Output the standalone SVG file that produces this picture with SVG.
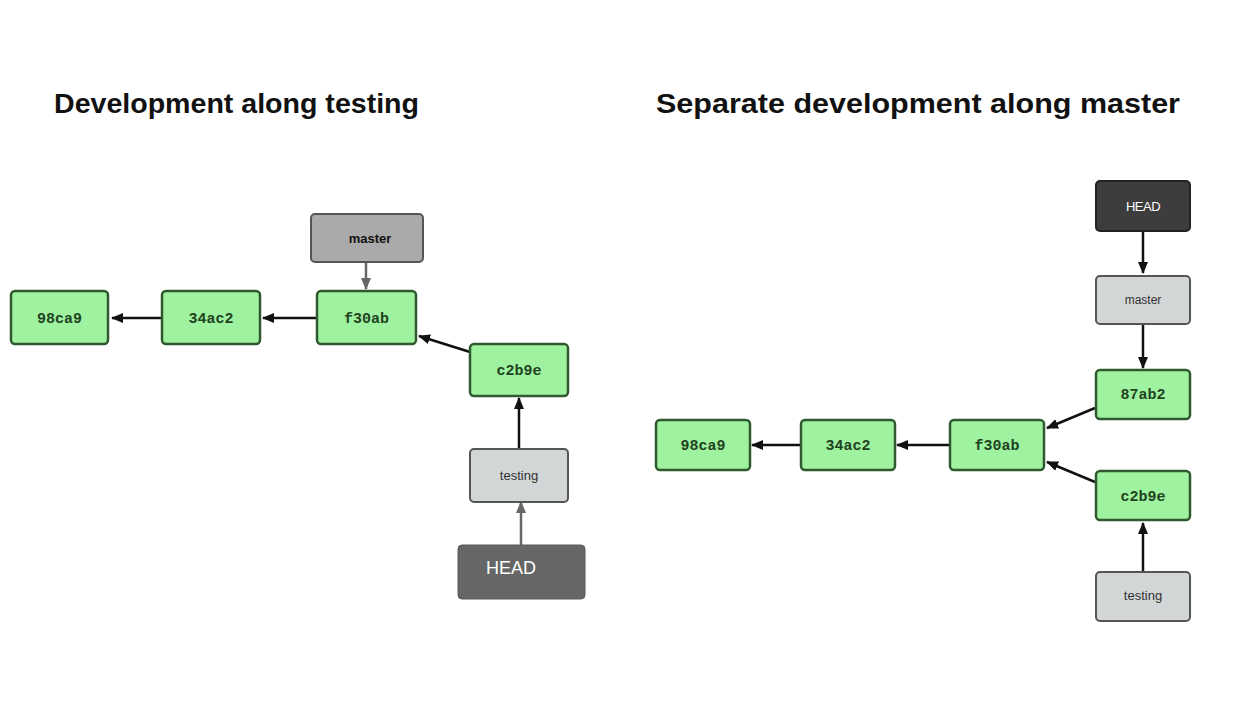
<svg xmlns="http://www.w3.org/2000/svg" width="1256" height="709" viewBox="0 0 1256 709">
<defs>
<style>
.title{font-family:"Liberation Sans",Arial,sans-serif;font-weight:bold;font-size:28px;fill:#111}
.commit rect{fill:#9ff29f;stroke:#2f5a2f;stroke-width:2.5}
.commit text{font-family:"Liberation Mono","Courier New",monospace;font-weight:bold;font-size:15px;fill:#1f431f;text-anchor:middle}
.lbl{font-family:"Liberation Sans",Arial,sans-serif;text-anchor:middle}
.conn line{stroke:#111;stroke-width:2.5}
.conn line.g{stroke:#666}
</style>
<marker id="ah" viewBox="0 0 12 10" refX="11" refY="5" markerWidth="12" markerHeight="10" markerUnits="userSpaceOnUse" orient="auto">
<path d="M0,0 L12,5 L0,10 Z" fill="#111"/>
</marker>
<marker id="ahg" viewBox="0 0 12 10" refX="11" refY="5" markerWidth="12" markerHeight="10" markerUnits="userSpaceOnUse" orient="auto">
<path d="M0,0 L12,5 L0,10 Z" fill="#666"/>
</marker>
</defs>
<rect width="1256" height="709" fill="#ffffff"/>
<text class="title" x="54" y="113" textLength="365" lengthAdjust="spacingAndGlyphs">Development along testing</text>
<text class="title" x="656" y="113" textLength="524" lengthAdjust="spacingAndGlyphs">Separate development along master</text>

<g id="connectors" class="conn">
<line x1="317" y1="318" x2="263" y2="318" marker-end="url(#ah)"/>
<line x1="162" y1="318" x2="112" y2="318" marker-end="url(#ah)"/>
<line class="g" x1="366" y1="262" x2="366" y2="289" marker-end="url(#ahg)"/>
<line x1="470" y1="352" x2="419" y2="336" marker-end="url(#ah)"/>
<line x1="519" y1="448" x2="519" y2="398" marker-end="url(#ah)"/>
<line class="g" x1="521" y1="553" x2="521" y2="502" marker-end="url(#ahg)"/>
<line x1="950" y1="445" x2="897" y2="445" marker-end="url(#ah)"/>
<line x1="801" y1="445" x2="752" y2="445" marker-end="url(#ah)"/>
<line x1="1143" y1="232" x2="1143" y2="273" marker-end="url(#ah)"/>
<line x1="1143" y1="324" x2="1143" y2="368" marker-end="url(#ah)"/>
<line x1="1095" y1="408" x2="1047" y2="428" marker-end="url(#ah)"/>
<line x1="1095" y1="482" x2="1047" y2="462" marker-end="url(#ah)"/>
<line x1="1143" y1="571" x2="1143" y2="523" marker-end="url(#ah)"/>
</g>

<g id="L-98ca9" class="commit"><rect x="11" y="291" width="97" height="53" rx="4"/><text x="59.5" y="323">98ca9</text></g>
<g id="L-34ac2" class="commit"><rect x="162" y="291" width="98" height="53" rx="4"/><text x="211" y="323">34ac2</text></g>
<g id="L-f30ab" class="commit"><rect x="317" y="291" width="99" height="53" rx="4"/><text x="366.5" y="323">f30ab</text></g>
<g id="L-c2b9e" class="commit"><rect x="470" y="344" width="98" height="52" rx="4"/><text x="519" y="375">c2b9e</text></g>
<g id="L-master"><rect x="311" y="214" width="112" height="48" rx="4" fill="#aaaaaa" stroke="#555" stroke-width="2"/><text class="lbl" x="370" y="243" font-size="13" font-weight="bold" fill="#111">master</text></g>
<g id="L-testing"><rect x="470" y="449" width="98" height="53" rx="4" fill="#d3d6d6" stroke="#555" stroke-width="2"/><text class="lbl" x="519" y="480" font-size="13" fill="#333">testing</text></g>
<g id="L-HEAD"><rect x="458" y="545" width="127" height="54" rx="4" fill="#666666" stroke="#5a5a5a" stroke-width="1"/><text class="lbl" x="511" y="574" font-size="18" fill="#ffffff">HEAD</text></g>

<g id="R-98ca9" class="commit"><rect x="656" y="420" width="94" height="50" rx="4"/><text x="703" y="450">98ca9</text></g>
<g id="R-34ac2" class="commit"><rect x="801" y="420" width="94" height="50" rx="4"/><text x="848" y="450">34ac2</text></g>
<g id="R-f30ab" class="commit"><rect x="950" y="420" width="94" height="50" rx="4"/><text x="997" y="450">f30ab</text></g>
<g id="R-87ab2" class="commit"><rect x="1096" y="370" width="94" height="49" rx="4"/><text x="1143" y="399">87ab2</text></g>
<g id="R-c2b9e" class="commit"><rect x="1096" y="471" width="94" height="49" rx="4"/><text x="1143" y="501">c2b9e</text></g>
<g id="R-HEAD"><rect x="1096" y="181" width="94" height="50" rx="4" fill="#3d3d3d" stroke="#222" stroke-width="2"/><text class="lbl" x="1143" y="211" font-size="13" fill="#ffffff" letter-spacing="-0.5">HEAD</text></g>
<g id="R-master"><rect x="1096" y="276" width="94" height="48" rx="4" fill="#d3d6d6" stroke="#555" stroke-width="2"/><text class="lbl" x="1143" y="304" font-size="12" fill="#333">master</text></g>
<g id="R-testing"><rect x="1096" y="572" width="94" height="49" rx="4" fill="#d3d6d6" stroke="#555" stroke-width="2"/><text class="lbl" x="1143" y="600" font-size="13" fill="#333">testing</text></g>
</svg>
